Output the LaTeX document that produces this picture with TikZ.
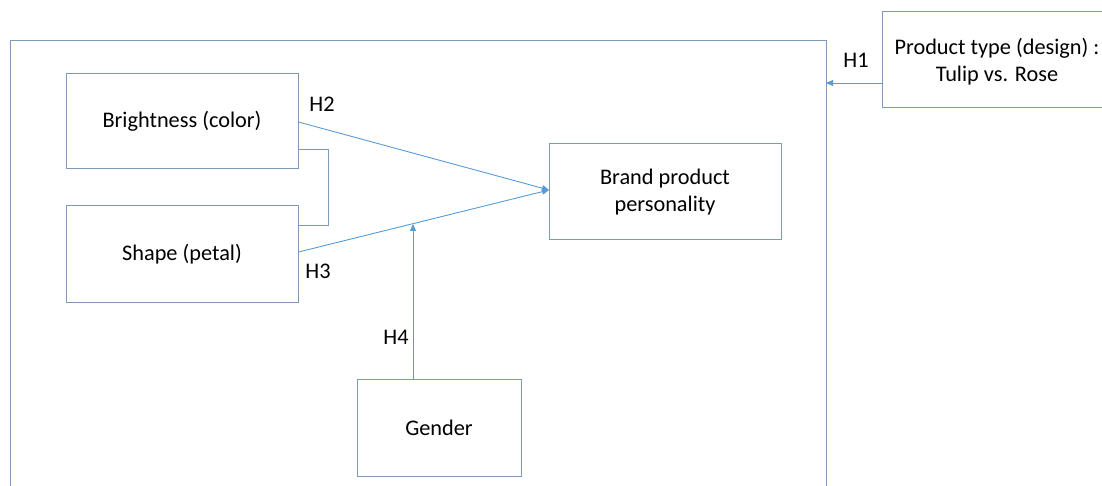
\documentclass[tikz,border=0pt]{standalone}
\usepackage{fontspec}
\setmainfont{Carlito}
\usetikzlibrary{arrows.meta}
\definecolor{boxc}{RGB}{125,155,185}
\definecolor{arrc}{RGB}{91,155,213}
\begin{document}
\begin{tikzpicture}[x=1pt,y=-1pt,
  every node/.style={font=\fontsize{22.3}{27}\selectfont, text=black, align=center},
  box/.style={draw=boxc, line width=1pt, inner sep=0pt},
  conn/.style={draw=arrc, line width=0.9pt},
  arr/.style={conn, -{Triangle[length=7pt,width=6pt]}},
  lab/.style={inner sep=0pt}]
\useasboundingbox (0,0) rectangle (1102,486);
\begin{scope}
\clip (0,0) rectangle (1102,486);
\draw[boxc, line width=1pt] (10,500) -- (10,41) -- (826,41) -- (826,500);
\node[box, minimum width=232pt, minimum height=95pt] (bright) at (182,121.5) {Brightness (color)};
\node[box, minimum width=232pt, minimum height=96pt] (shape) at (182,254) {Shape (petal)};
\node[box, minimum width=232pt, minimum height=96pt] (brand) at (665,192) {Brand product\\personality};
\node[box, minimum width=164pt, minimum height=97pt] (gender) at (439,427.5) {Gender};
\node[box, minimum width=250pt, minimum height=96pt, anchor=west] (prod) at (882,60) {};
\node (prodtxt) at (997,62) {Product type (design) :\\Tulip vs. Rose};
\coordinate (tip) at (549,190);
\coordinate (frameR) at (826,83);
\coordinate (bA) at (328,150);
\coordinate (bB) at (328,226);
\draw[arr] (bright.east |- 0,122) -- (tip);
\draw[arr] (shape.east |- 0,252) -- (tip);
\draw[boxc, line width=1pt] (bright.east |- 0,150) -- (bA) -- (bB) -- (shape.east |- 0,226);
\coordinate (meet) at (413,224);
\draw[arr] (gender.north -| meet) -- (meet);
\draw[arr] (prod.west |- frameR) -- (frameR);
\node[lab] (h2) at (322,104) {H2};
\node[lab] (h3) at (318,271) {H3};
\node[lab] (h4) at (396,337) {H4};
\node[lab] (h1) at (856,60) {H1};
\end{scope}
\end{tikzpicture}
\end{document}
